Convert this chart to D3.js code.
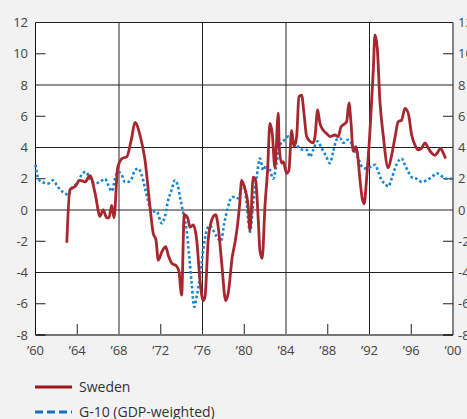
<!DOCTYPE html>
<html>
<head>
<meta charset="utf-8">
<script src="https://cdn.jsdelivr.net/npm/d3@7"></script>
<style>
  html, body { margin: 0; padding: 0; background: #f2f2f2; overflow: hidden; }
  text { font-family: "Open Sans", "Noto Sans", sans-serif; }
</style>
</head>
<body>
<div id="vizcontainer"></div>
<script>
const width = 467,
  height = 419;

// Sweden, annual % change (year, value)
const swedenYears = [1963.0, 1963.3, 1963.78, 1964.26, 1964.74, 1965.22, 1965.7, 1966.18, 1966.49, 1966.82, 1967.04, 1967.3, 1967.52, 1967.87, 1968.31, 1968.74, 1969.21, 1969.53, 1970.01, 1970.49, 1970.97, 1971.28, 1971.54, 1971.76, 1972.09, 1972.47, 1972.72, 1973.05, 1973.52, 1973.75, 1974.0, 1974.25, 1974.58, 1974.8, 1975.11, 1975.44, 1975.76, 1976.07, 1976.24, 1976.55, 1976.88, 1977.26, 1977.51, 1977.84, 1978.22, 1978.47, 1978.85, 1979.11, 1979.35, 1979.55, 1979.75, 1980.0, 1980.38, 1980.55, 1980.86, 1981.09, 1981.34, 1981.5, 1981.72, 1981.98, 1982.24, 1982.46, 1982.68, 1982.94, 1983.26, 1983.35, 1983.58, 1983.74, 1984.06, 1984.28, 1984.54, 1984.76, 1985.02, 1985.24, 1985.5, 1985.72, 1985.98, 1986.29, 1986.61, 1986.78, 1987.03, 1987.25, 1987.57, 1987.89, 1988.21, 1988.69, 1989.0, 1989.26, 1989.48, 1989.81, 1990.03, 1990.22, 1990.44, 1990.7, 1990.82, 1991.08, 1991.3, 1991.49, 1991.72, 1992.04, 1992.36, 1992.52, 1992.74, 1993.0, 1993.31, 1993.79, 1994.12, 1994.43, 1994.75, 1995.08, 1995.39, 1995.71, 1996.04, 1996.36, 1996.67, 1996.99, 1997.31, 1997.63, 1997.95, 1998.27, 1998.49, 1998.81, 1999.06, 1999.29];
const swedenValues = [-2.1, 1.3, 1.5, 1.9, 1.8, 2.2, 1.1, -0.4, 0.0, -0.5, -0.5, 0.3, -0.5, 2.7, 3.3, 3.4, 4.6, 5.6, 4.8, 3.2, 0.2, -1.5, -1.9, -3.2, -2.7, -2.35, -2.9, -3.4, -3.6, -3.95, -5.45, -0.3, -0.5, -1.1, -0.95, -1.9, -4.5, -5.8, -5.55, -1.9, -0.65, -0.3, -1.1, -3.4, -5.8, -5.3, -3.0, -2.1, -1.0, 0.3, 1.9, 1.5, 0.2, -1.3, 2.1, 1.9, -0.6, -2.6, -3.1, 0.2, 2.6, 5.55, 4.9, 2.7, 6.2, 4.05, 3.0, 3.1, 2.35, 2.55, 5.1, 4.05, 4.7, 7.25, 7.35, 6.2, 4.7, 4.4, 4.3, 4.7, 6.4, 5.55, 5.1, 4.9, 4.7, 4.8, 4.7, 5.3, 5.45, 5.65, 6.85, 5.65, 3.75, 4.05, 3.75, 2.0, 0.75, 0.4, 2.0, 5.0, 8.9, 11.2, 10.4, 6.95, 4.8, 2.7, 3.5, 4.6, 5.65, 5.75, 6.5, 6.2, 4.8, 4.15, 3.85, 3.95, 4.3, 3.95, 3.65, 3.5, 3.65, 3.95, 3.65, 3.3];

// G-10 (GDP-weighted)
const g10Years = [1960.0, 1960.27, 1960.59, 1961.23, 1961.7, 1962.03, 1962.35, 1962.83, 1963.14, 1963.47, 1963.95, 1964.43, 1964.81, 1965.22, 1965.7, 1966.18, 1966.65, 1966.97, 1967.3, 1967.62, 1967.93, 1968.26, 1968.57, 1968.89, 1969.21, 1969.53, 1969.85, 1970.17, 1970.49, 1970.8, 1971.13, 1971.61, 1972.09, 1972.4, 1972.72, 1973.05, 1973.36, 1973.62, 1973.84, 1974.16, 1974.48, 1974.73, 1974.96, 1975.21, 1975.44, 1975.76, 1976.07, 1976.4, 1976.71, 1977.03, 1977.36, 1977.77, 1978.08, 1978.41, 1978.79, 1979.11, 1979.43, 1979.9, 1980.23, 1980.38, 1980.55, 1980.86, 1981.19, 1981.5, 1981.82, 1982.15, 1982.46, 1982.78, 1983.1, 1983.42, 1983.74, 1984.21, 1984.69, 1985.17, 1985.65, 1985.98, 1986.29, 1986.61, 1987.03, 1987.41, 1987.8, 1988.21, 1988.53, 1988.85, 1989.17, 1989.48, 1989.96, 1990.44, 1990.92, 1991.25, 1991.72, 1992.2, 1992.52, 1992.84, 1993.16, 1993.48, 1993.79, 1994.12, 1994.43, 1994.85, 1995.08, 1995.39, 1995.71, 1996.04, 1996.51, 1996.99, 1997.47, 1997.95, 1998.43, 1998.75, 1999.06, 1999.39, 1999.9];
const g10Values = [2.9, 2.0, 1.8, 1.7, 1.9, 1.6, 1.3, 1.07, 0.96, 1.4, 1.7, 2.25, 2.45, 2.0, 1.7, 1.8, 2.0, 1.6, 1.2, 2.0, 2.45, 2.25, 1.8, 1.8, 2.0, 2.55, 2.65, 2.25, 1.4, 0.55, -0.1, -0.1, -0.85, -0.4, 0.65, 1.3, 1.9, 1.6, 0.85, -0.2, -1.3, -3.0, -4.7, -6.2, -5.55, -4.3, -2.55, -1.3, -1.0, -1.3, -1.7, -2.0, -0.85, 0.1, 0.8, 0.85, 0.75, 1.7, 0.43, -0.64, -1.4, 0.43, 2.1, 3.3, 2.55, 2.9, 2.55, 2.0, 3.0, 4.15, 4.4, 4.7, 4.5, 4.05, 3.85, 3.85, 3.4, 3.85, 4.4, 3.95, 3.5, 3.0, 3.75, 4.5, 4.6, 4.3, 4.5, 4.05, 3.3, 2.8, 2.65, 2.8, 2.9, 2.45, 1.9, 1.7, 1.5, 2.0, 2.65, 3.2, 3.3, 2.9, 2.45, 2.1, 2.0, 1.8, 1.9, 2.1, 2.35, 2.25, 2.1, 2.0, 2.0];

const yTicks = [12, 10, 8, 6, 4, 2, 0, -2, -4, -6, -8];
const yGrid = [8, 4, 0, -4];
const xTicks = [1960, 1964, 1968, 1972, 1976, 1980, 1984, 1988, 1992, 1996, 2000];
const xGrid = [1968, 1976, 1984, 1992];
const xMinor = [1964, 1972, 1980, 1988, 1996];
const yMinor = [10, 6, 2, -2, -6];

const seriesNames = ['Sweden', 'G-10 (GDP-weighted)'];

const redColor = '#a8262e',
  blueColor = '#1786d2';

const pLeft = 35.5, pRight = 453, pTop = 22.5, pBottom = 335;

const viz = d3.select('#vizcontainer')
  .append('svg')
  .attr('width', width)
  .attr('height', height);

const x = d3.scaleLinear()
  .domain([1960, 2000])
  .range([pLeft, pRight]);

const y = d3.scaleLinear()
  .domain([-8, 12])
  .range([pBottom, pTop]);

// plot background
viz.append('rect')
  .attr('x', pLeft)
  .attr('y', pTop)
  .attr('width', pRight - pLeft)
  .attr('height', pBottom - pTop)
  .attr('fill', 'white');

// grid lines
viz.append('g')
  .selectAll('line')
  .data(yGrid)
  .join('line')
  .attr('x1', pLeft)
  .attr('x2', pRight)
  .attr('y1', d => y(d))
  .attr('y2', d => y(d))
  .attr('stroke', '#222')
  .attr('stroke-width', 1);

viz.append('g')
  .selectAll('line')
  .data(xGrid)
  .join('line')
  .attr('x1', d => x(d))
  .attr('x2', d => x(d))
  .attr('y1', pTop)
  .attr('y2', pBottom)
  .attr('stroke', '#222')
  .attr('stroke-width', 1);

// inside ticks
viz.append('g')
  .selectAll('line')
  .data(xMinor)
  .join('line')
  .attr('x1', d => x(d))
  .attr('x2', d => x(d))
  .attr('y1', pBottom)
  .attr('y2', pBottom - 11)
  .attr('stroke', '#222');

viz.append('g')
  .selectAll('line')
  .data(yMinor)
  .join('line')
  .attr('x1', pLeft)
  .attr('x2', pLeft + 10)
  .attr('y1', d => y(d))
  .attr('y2', d => y(d))
  .attr('stroke', '#222');

viz.append('g')
  .selectAll('line')
  .data(yMinor)
  .join('line')
  .attr('x1', pRight - 10)
  .attr('x2', pRight)
  .attr('y1', d => y(d))
  .attr('y2', d => y(d))
  .attr('stroke', '#222');

// frame
viz.append('line')
  .attr('x1', pLeft).attr('x2', pRight)
  .attr('y1', pTop).attr('y2', pTop)
  .attr('stroke', '#222');
viz.append('line')
  .attr('x1', pLeft).attr('x2', pLeft)
  .attr('y1', pTop).attr('y2', pBottom)
  .attr('stroke', '#111');
viz.append('line')
  .attr('x1', pRight).attr('x2', pRight)
  .attr('y1', pTop).attr('y2', pBottom)
  .attr('stroke', '#111');
viz.append('line')
  .attr('x1', pLeft).attr('x2', pRight)
  .attr('y1', pBottom).attr('y2', pBottom)
  .attr('stroke', '#777')
  .attr('stroke-width', 2);
viz.append('line')
  .attr('x1', pLeft).attr('x2', pLeft + 10)
  .attr('y1', pBottom).attr('y2', pBottom)
  .attr('stroke', '#333')
  .attr('stroke-width', 2);
viz.append('line')
  .attr('x1', pRight - 10).attr('x2', pRight)
  .attr('y1', pBottom).attr('y2', pBottom)
  .attr('stroke', '#333')
  .attr('stroke-width', 2);

// axis labels
viz.append('g')
  .selectAll('text')
  .data(yTicks)
  .join('text')
  .attr('x', 28)
  .attr('y', d => y(d))
  .attr('dy', '0.35em')
  .attr('text-anchor', 'end')
  .attr('font-size', 13)
  .attr('fill', '#444')
  .text(d => d);

viz.append('g')
  .selectAll('text')
  .data(yTicks)
  .join('text')
  .attr('x', 458)
  .attr('y', d => y(d))
  .attr('dy', '0.35em')
  .attr('text-anchor', 'start')
  .attr('font-size', 13)
  .attr('fill', '#444')
  .text(d => d);

viz.append('g')
  .selectAll('text')
  .data(xTicks)
  .join('text')
  .attr('x', d => x(d))
  .attr('y', 355)
  .attr('text-anchor', 'middle')
  .attr('font-size', 13)
  .attr('fill', '#444')
  .text(d => '\u2019' + String(d).slice(2));

// series
const sweden = swedenYears.map((d, i) => ({ year: d, value: swedenValues[i] }));
const g10 = g10Years.map((d, i) => ({ year: d, value: g10Values[i] }));

const line = d3.line()
  .x(d => x(d.year))
  .y(d => y(d.value))
  .curve(d3.curveMonotoneX);

viz.append('path')
  .datum(g10)
  .attr('fill', 'none')
  .attr('stroke', blueColor)
  .attr('stroke-width', 2.6)
  .attr('stroke-dasharray', '2.6,2.4')
  .attr('d', line);

viz.append('path')
  .datum(sweden)
  .attr('fill', 'none')
  .attr('stroke', redColor)
  .attr('stroke-width', 2.8)
  .attr('stroke-linejoin', 'round')
  .attr('d', line);

// legend
const legend = viz.append('g');

legend.append('line')
  .attr('x1', 35).attr('x2', 72)
  .attr('y1', 387).attr('y2', 387)
  .attr('stroke', '#a0141c')
  .attr('stroke-width', 3);
legend.append('text')
  .attr('x', 79).attr('y', 387)
  .attr('dy', '0.35em')
  .attr('font-size', 14)
  .attr('fill', '#333')
  .text(seriesNames[0]);

legend.append('line')
  .attr('x1', 35).attr('x2', 72)
  .attr('y1', 412).attr('y2', 412)
  .attr('stroke', '#1a6fbf')
  .attr('stroke-width', 3)
  .attr('stroke-dasharray', '8,4');
legend.append('text')
  .attr('x', 79).attr('y', 412)
  .attr('dy', '0.35em')
  .attr('font-size', 14)
  .attr('fill', '#333')
  .text(seriesNames[1]);
</script>
</body>
</html>
